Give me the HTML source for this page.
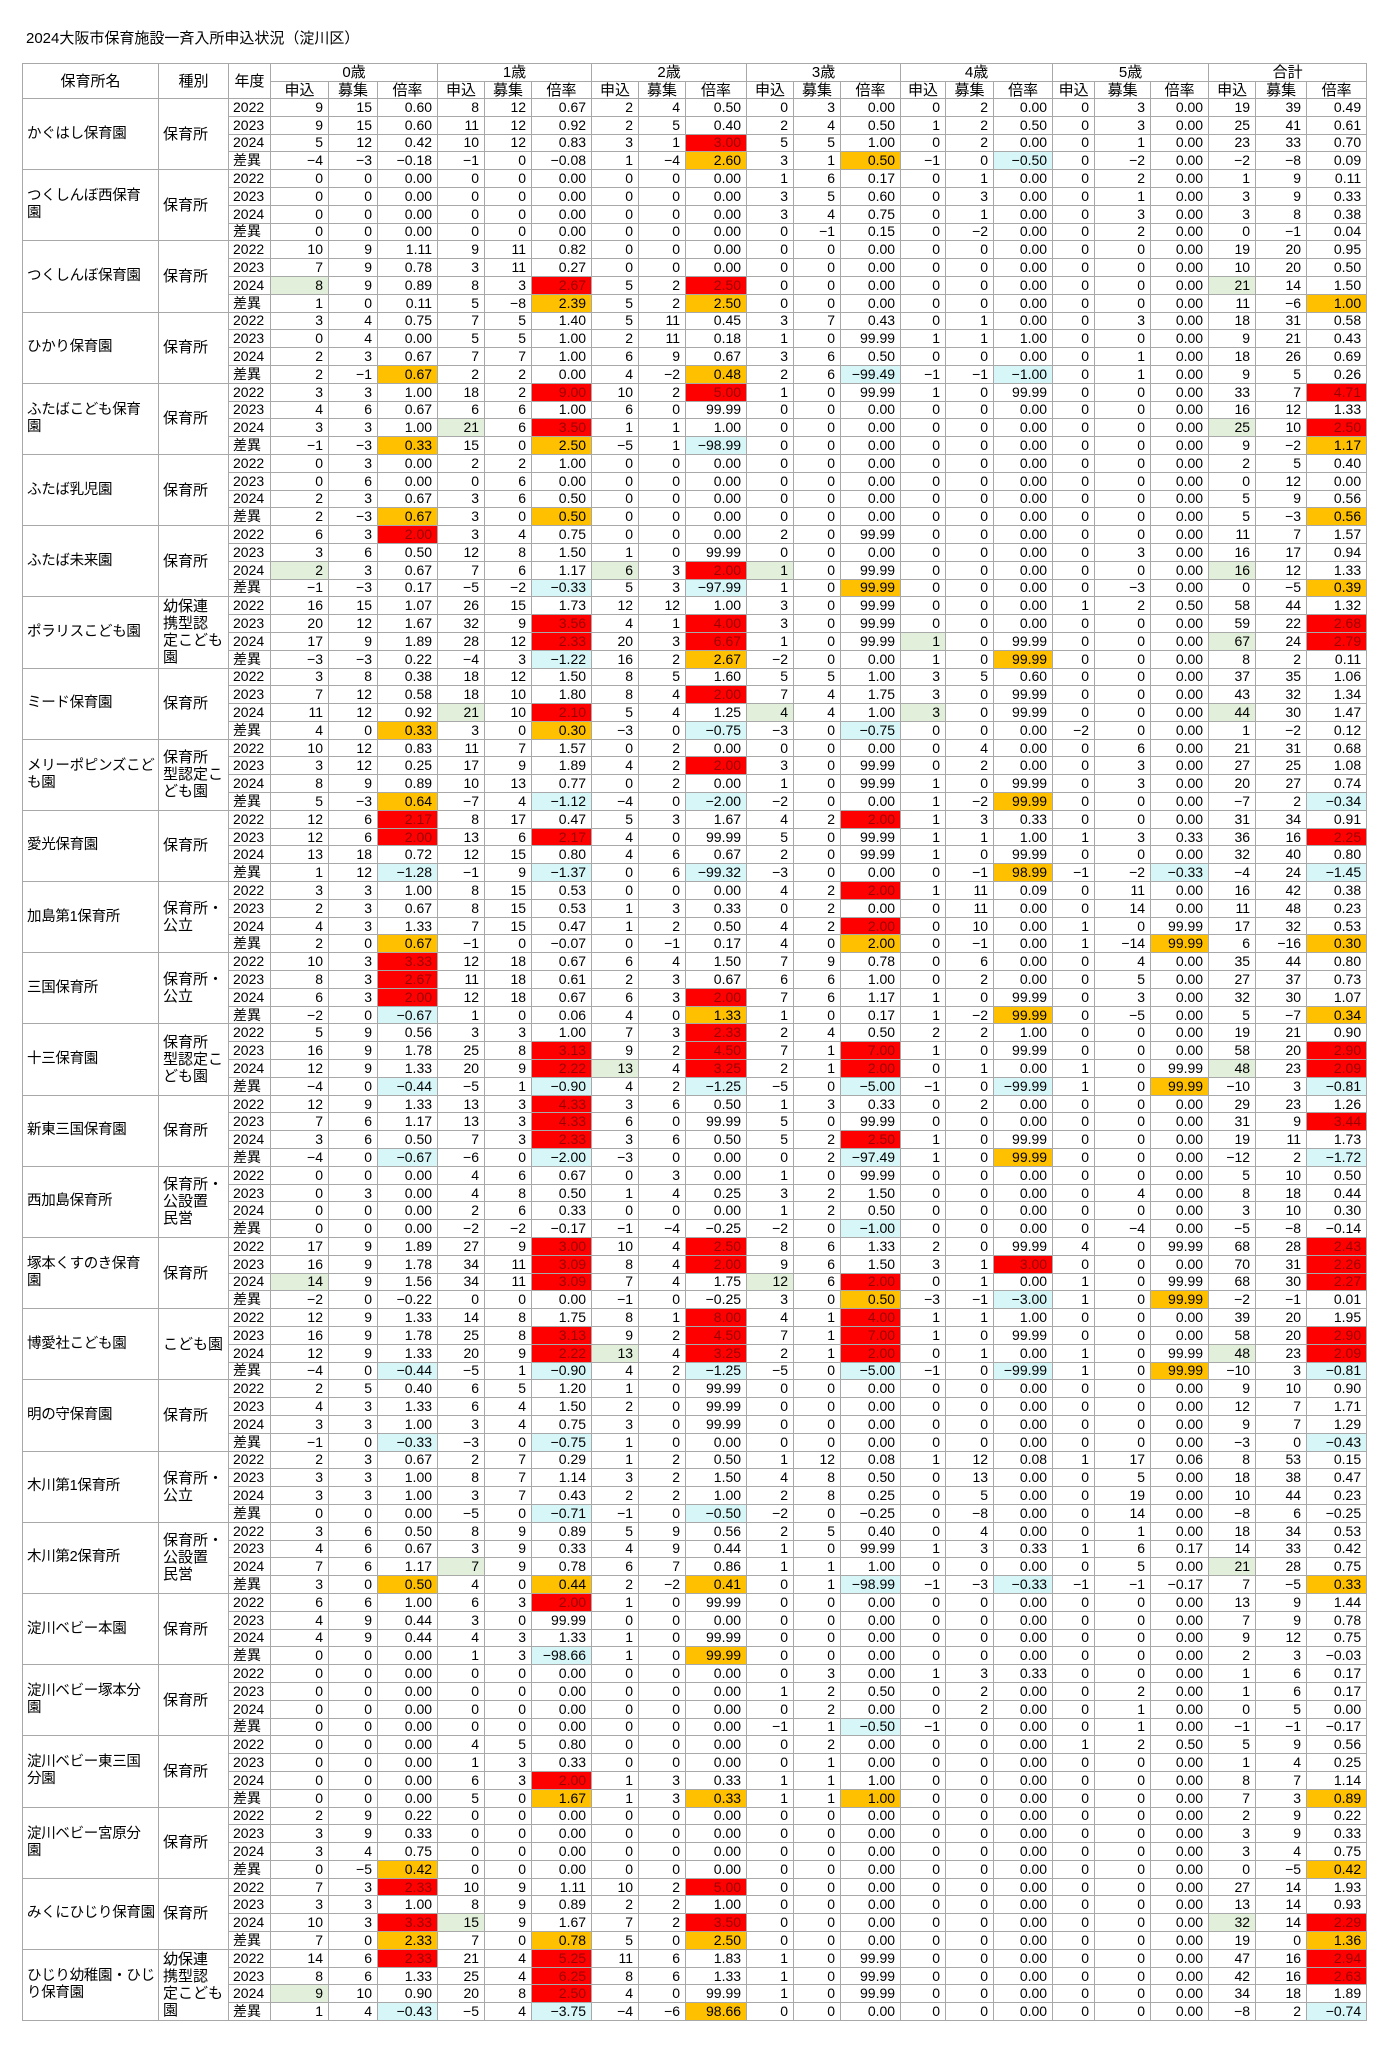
<!DOCTYPE html>
<html><head><meta charset="utf-8">
<style>
html,body{margin:0;padding:0;background:#fff;width:1390px;height:2048px;overflow:hidden}
body{font-family:"Liberation Sans","Noto Sans CJK JP",sans-serif;color:#000;position:relative}
.title{position:absolute;left:26px;top:27px;font-size:15px}
table{position:absolute;left:22px;top:63px;border-collapse:collapse;table-layout:fixed;width:1344px}
td,th{border:1px solid #a8a8a8;padding:0 5px 0 2px;font-size:14px;line-height:15px;text-align:right;white-space:nowrap;overflow:hidden;font-weight:normal}
th{text-align:center;font-size:15px;padding:0}
tr.h1{height:18px} tr.h2{height:17px}
tbody tr{height:17.8px}
td.n,td.t{text-align:left;font-size:15px;line-height:17px;padding:0 0 0 4px;vertical-align:middle;white-space:nowrap;overflow:visible}
td.n{font-size:14.5px;letter-spacing:-0.3px}
td.y{text-align:left;font-size:14px;padding-left:4px}
.r{background:#ff0000;color:#9a0000}
.o{background:#ffc000}
.b{background:#d7f6f8}
.g{background:#e2efda}
</style></head><body>
<div class="title">2024大阪市保育施設一斉入所申込状況（淀川区）</div>
<table>
<colgroup><col style="width:136px"><col style="width:70px"><col style="width:42px">
<col style="width:58px"><col style="width:49px"><col style="width:60px">
<col style="width:47px"><col style="width:47px"><col style="width:60px">
<col style="width:47px"><col style="width:47px"><col style="width:61px">
<col style="width:47px"><col style="width:47px"><col style="width:60px">
<col style="width:45px"><col style="width:48px"><col style="width:59px">
<col style="width:42px"><col style="width:56px"><col style="width:58px">
<col style="width:47px"><col style="width:51px"><col style="width:60px"></colgroup>
<thead>
<tr class="h1"><th rowspan="2">保育所名</th><th rowspan="2">種別</th><th rowspan="2">年度</th><th colspan="3">0歳</th><th colspan="3">1歳</th><th colspan="3">2歳</th><th colspan="3">3歳</th><th colspan="3">4歳</th><th colspan="3">5歳</th><th colspan="3">合計</th></tr>
<tr class="h2"><th>申込</th><th>募集</th><th>倍率</th><th>申込</th><th>募集</th><th>倍率</th><th>申込</th><th>募集</th><th>倍率</th><th>申込</th><th>募集</th><th>倍率</th><th>申込</th><th>募集</th><th>倍率</th><th>申込</th><th>募集</th><th>倍率</th><th>申込</th><th>募集</th><th>倍率</th></tr>
</thead>
<tbody>
<tr><td class="n" rowspan="4">かぐはし保育園<td class="t" rowspan="4">保育所<td class="y">2022<td>9<td>15<td>0.60<td>8<td>12<td>0.67<td>2<td>4<td>0.50<td>0<td>3<td>0.00<td>0<td>2<td>0.00<td>0<td>3<td>0.00<td>19<td>39<td>0.49
<tr><td class="y">2023<td>9<td>15<td>0.60<td>11<td>12<td>0.92<td>2<td>5<td>0.40<td>2<td>4<td>0.50<td>1<td>2<td>0.50<td>0<td>3<td>0.00<td>25<td>41<td>0.61
<tr><td class="y">2024<td>5<td>12<td>0.42<td>10<td>12<td>0.83<td>3<td>1<td class="r">3.00<td>5<td>5<td>1.00<td>0<td>2<td>0.00<td>0<td>1<td>0.00<td>23<td>33<td>0.70
<tr><td class="y">差異<td>−4<td>−3<td>−0.18<td>−1<td>0<td>−0.08<td>1<td>−4<td class="o">2.60<td>3<td>1<td class="o">0.50<td>−1<td>0<td class="b">−0.50<td>0<td>−2<td>0.00<td>−2<td>−8<td>0.09

<tr><td class="n" rowspan="4">つくしんぼ西保育<br>園<td class="t" rowspan="4">保育所<td class="y">2022<td>0<td>0<td>0.00<td>0<td>0<td>0.00<td>0<td>0<td>0.00<td>1<td>6<td>0.17<td>0<td>1<td>0.00<td>0<td>2<td>0.00<td>1<td>9<td>0.11
<tr><td class="y">2023<td>0<td>0<td>0.00<td>0<td>0<td>0.00<td>0<td>0<td>0.00<td>3<td>5<td>0.60<td>0<td>3<td>0.00<td>0<td>1<td>0.00<td>3<td>9<td>0.33
<tr><td class="y">2024<td>0<td>0<td>0.00<td>0<td>0<td>0.00<td>0<td>0<td>0.00<td>3<td>4<td>0.75<td>0<td>1<td>0.00<td>0<td>3<td>0.00<td>3<td>8<td>0.38
<tr><td class="y">差異<td>0<td>0<td>0.00<td>0<td>0<td>0.00<td>0<td>0<td>0.00<td>0<td>−1<td>0.15<td>0<td>−2<td>0.00<td>0<td>2<td>0.00<td>0<td>−1<td>0.04

<tr><td class="n" rowspan="4">つくしんぼ保育園<td class="t" rowspan="4">保育所<td class="y">2022<td>10<td>9<td>1.11<td>9<td>11<td>0.82<td>0<td>0<td>0.00<td>0<td>0<td>0.00<td>0<td>0<td>0.00<td>0<td>0<td>0.00<td>19<td>20<td>0.95
<tr><td class="y">2023<td>7<td>9<td>0.78<td>3<td>11<td>0.27<td>0<td>0<td>0.00<td>0<td>0<td>0.00<td>0<td>0<td>0.00<td>0<td>0<td>0.00<td>10<td>20<td>0.50
<tr><td class="y">2024<td class="g">8<td>9<td>0.89<td>8<td>3<td class="r">2.67<td>5<td>2<td class="r">2.50<td>0<td>0<td>0.00<td>0<td>0<td>0.00<td>0<td>0<td>0.00<td class="g">21<td>14<td>1.50
<tr><td class="y">差異<td>1<td>0<td>0.11<td>5<td>−8<td class="o">2.39<td>5<td>2<td class="o">2.50<td>0<td>0<td>0.00<td>0<td>0<td>0.00<td>0<td>0<td>0.00<td>11<td>−6<td class="o">1.00

<tr><td class="n" rowspan="4">ひかり保育園<td class="t" rowspan="4">保育所<td class="y">2022<td>3<td>4<td>0.75<td>7<td>5<td>1.40<td>5<td>11<td>0.45<td>3<td>7<td>0.43<td>0<td>1<td>0.00<td>0<td>3<td>0.00<td>18<td>31<td>0.58
<tr><td class="y">2023<td>0<td>4<td>0.00<td>5<td>5<td>1.00<td>2<td>11<td>0.18<td>1<td>0<td>99.99<td>1<td>1<td>1.00<td>0<td>0<td>0.00<td>9<td>21<td>0.43
<tr><td class="y">2024<td>2<td>3<td>0.67<td>7<td>7<td>1.00<td>6<td>9<td>0.67<td>3<td>6<td>0.50<td>0<td>0<td>0.00<td>0<td>1<td>0.00<td>18<td>26<td>0.69
<tr><td class="y">差異<td>2<td>−1<td class="o">0.67<td>2<td>2<td>0.00<td>4<td>−2<td class="o">0.48<td>2<td>6<td class="b">−99.49<td>−1<td>−1<td class="b">−1.00<td>0<td>1<td>0.00<td>9<td>5<td>0.26

<tr><td class="n" rowspan="4">ふたばこども保育<br>園<td class="t" rowspan="4">保育所<td class="y">2022<td>3<td>3<td>1.00<td>18<td>2<td class="r">9.00<td>10<td>2<td class="r">5.00<td>1<td>0<td>99.99<td>1<td>0<td>99.99<td>0<td>0<td>0.00<td>33<td>7<td class="r">4.71
<tr><td class="y">2023<td>4<td>6<td>0.67<td>6<td>6<td>1.00<td>6<td>0<td>99.99<td>0<td>0<td>0.00<td>0<td>0<td>0.00<td>0<td>0<td>0.00<td>16<td>12<td>1.33
<tr><td class="y">2024<td>3<td>3<td>1.00<td class="g">21<td>6<td class="r">3.50<td>1<td>1<td>1.00<td>0<td>0<td>0.00<td>0<td>0<td>0.00<td>0<td>0<td>0.00<td class="g">25<td>10<td class="r">2.50
<tr><td class="y">差異<td>−1<td>−3<td class="o">0.33<td>15<td>0<td class="o">2.50<td>−5<td>1<td class="b">−98.99<td>0<td>0<td>0.00<td>0<td>0<td>0.00<td>0<td>0<td>0.00<td>9<td>−2<td class="o">1.17

<tr><td class="n" rowspan="4">ふたば乳児園<td class="t" rowspan="4">保育所<td class="y">2022<td>0<td>3<td>0.00<td>2<td>2<td>1.00<td>0<td>0<td>0.00<td>0<td>0<td>0.00<td>0<td>0<td>0.00<td>0<td>0<td>0.00<td>2<td>5<td>0.40
<tr><td class="y">2023<td>0<td>6<td>0.00<td>0<td>6<td>0.00<td>0<td>0<td>0.00<td>0<td>0<td>0.00<td>0<td>0<td>0.00<td>0<td>0<td>0.00<td>0<td>12<td>0.00
<tr><td class="y">2024<td>2<td>3<td>0.67<td>3<td>6<td>0.50<td>0<td>0<td>0.00<td>0<td>0<td>0.00<td>0<td>0<td>0.00<td>0<td>0<td>0.00<td>5<td>9<td>0.56
<tr><td class="y">差異<td>2<td>−3<td class="o">0.67<td>3<td>0<td class="o">0.50<td>0<td>0<td>0.00<td>0<td>0<td>0.00<td>0<td>0<td>0.00<td>0<td>0<td>0.00<td>5<td>−3<td class="o">0.56

<tr><td class="n" rowspan="4">ふたば未来園<td class="t" rowspan="4">保育所<td class="y">2022<td>6<td>3<td class="r">2.00<td>3<td>4<td>0.75<td>0<td>0<td>0.00<td>2<td>0<td>99.99<td>0<td>0<td>0.00<td>0<td>0<td>0.00<td>11<td>7<td>1.57
<tr><td class="y">2023<td>3<td>6<td>0.50<td>12<td>8<td>1.50<td>1<td>0<td>99.99<td>0<td>0<td>0.00<td>0<td>0<td>0.00<td>0<td>3<td>0.00<td>16<td>17<td>0.94
<tr><td class="y">2024<td class="g">2<td>3<td>0.67<td>7<td>6<td>1.17<td class="g">6<td>3<td class="r">2.00<td class="g">1<td>0<td>99.99<td>0<td>0<td>0.00<td>0<td>0<td>0.00<td class="g">16<td>12<td>1.33
<tr><td class="y">差異<td>−1<td>−3<td>0.17<td>−5<td>−2<td class="b">−0.33<td>5<td>3<td class="b">−97.99<td>1<td>0<td class="o">99.99<td>0<td>0<td>0.00<td>0<td>−3<td>0.00<td>0<td>−5<td class="o">0.39

<tr><td class="n" rowspan="4">ポラリスこども園<td class="t" rowspan="4">幼保連<br>携型認<br>定こども<br>園<td class="y">2022<td>16<td>15<td>1.07<td>26<td>15<td>1.73<td>12<td>12<td>1.00<td>3<td>0<td>99.99<td>0<td>0<td>0.00<td>1<td>2<td>0.50<td>58<td>44<td>1.32
<tr><td class="y">2023<td>20<td>12<td>1.67<td>32<td>9<td class="r">3.56<td>4<td>1<td class="r">4.00<td>3<td>0<td>99.99<td>0<td>0<td>0.00<td>0<td>0<td>0.00<td>59<td>22<td class="r">2.68
<tr><td class="y">2024<td>17<td>9<td>1.89<td>28<td>12<td class="r">2.33<td>20<td>3<td class="r">6.67<td>1<td>0<td>99.99<td class="g">1<td>0<td>99.99<td>0<td>0<td>0.00<td class="g">67<td>24<td class="r">2.79
<tr><td class="y">差異<td>−3<td>−3<td>0.22<td>−4<td>3<td class="b">−1.22<td>16<td>2<td class="o">2.67<td>−2<td>0<td>0.00<td>1<td>0<td class="o">99.99<td>0<td>0<td>0.00<td>8<td>2<td>0.11

<tr><td class="n" rowspan="4">ミード保育園<td class="t" rowspan="4">保育所<td class="y">2022<td>3<td>8<td>0.38<td>18<td>12<td>1.50<td>8<td>5<td>1.60<td>5<td>5<td>1.00<td>3<td>5<td>0.60<td>0<td>0<td>0.00<td>37<td>35<td>1.06
<tr><td class="y">2023<td>7<td>12<td>0.58<td>18<td>10<td>1.80<td>8<td>4<td class="r">2.00<td>7<td>4<td>1.75<td>3<td>0<td>99.99<td>0<td>0<td>0.00<td>43<td>32<td>1.34
<tr><td class="y">2024<td>11<td>12<td>0.92<td class="g">21<td>10<td class="r">2.10<td>5<td>4<td>1.25<td class="g">4<td>4<td>1.00<td class="g">3<td>0<td>99.99<td>0<td>0<td>0.00<td class="g">44<td>30<td>1.47
<tr><td class="y">差異<td>4<td>0<td class="o">0.33<td>3<td>0<td class="o">0.30<td>−3<td>0<td class="b">−0.75<td>−3<td>0<td class="b">−0.75<td>0<td>0<td>0.00<td>−2<td>0<td>0.00<td>1<td>−2<td>0.12

<tr><td class="n" rowspan="4">メリーポピンズこど<br>も園<td class="t" rowspan="4">保育所<br>型認定こ<br>ども園<td class="y">2022<td>10<td>12<td>0.83<td>11<td>7<td>1.57<td>0<td>2<td>0.00<td>0<td>0<td>0.00<td>0<td>4<td>0.00<td>0<td>6<td>0.00<td>21<td>31<td>0.68
<tr><td class="y">2023<td>3<td>12<td>0.25<td>17<td>9<td>1.89<td>4<td>2<td class="r">2.00<td>3<td>0<td>99.99<td>0<td>2<td>0.00<td>0<td>3<td>0.00<td>27<td>25<td>1.08
<tr><td class="y">2024<td>8<td>9<td>0.89<td>10<td>13<td>0.77<td>0<td>2<td>0.00<td>1<td>0<td>99.99<td>1<td>0<td>99.99<td>0<td>3<td>0.00<td>20<td>27<td>0.74
<tr><td class="y">差異<td>5<td>−3<td class="o">0.64<td>−7<td>4<td class="b">−1.12<td>−4<td>0<td class="b">−2.00<td>−2<td>0<td>0.00<td>1<td>−2<td class="o">99.99<td>0<td>0<td>0.00<td>−7<td>2<td class="b">−0.34

<tr><td class="n" rowspan="4">愛光保育園<td class="t" rowspan="4">保育所<td class="y">2022<td>12<td>6<td class="r">2.17<td>8<td>17<td>0.47<td>5<td>3<td>1.67<td>4<td>2<td class="r">2.00<td>1<td>3<td>0.33<td>0<td>0<td>0.00<td>31<td>34<td>0.91
<tr><td class="y">2023<td>12<td>6<td class="r">2.00<td>13<td>6<td class="r">2.17<td>4<td>0<td>99.99<td>5<td>0<td>99.99<td>1<td>1<td>1.00<td>1<td>3<td>0.33<td>36<td>16<td class="r">2.25
<tr><td class="y">2024<td>13<td>18<td>0.72<td>12<td>15<td>0.80<td>4<td>6<td>0.67<td>2<td>0<td>99.99<td>1<td>0<td>99.99<td>0<td>0<td>0.00<td>32<td>40<td>0.80
<tr><td class="y">差異<td>1<td>12<td class="b">−1.28<td>−1<td>9<td class="b">−1.37<td>0<td>6<td class="b">−99.32<td>−3<td>0<td>0.00<td>0<td>−1<td class="o">98.99<td>−1<td>−2<td class="b">−0.33<td>−4<td>24<td class="b">−1.45

<tr><td class="n" rowspan="4">加島第1保育所<td class="t" rowspan="4">保育所・<br>公立<td class="y">2022<td>3<td>3<td>1.00<td>8<td>15<td>0.53<td>0<td>0<td>0.00<td>4<td>2<td class="r">2.00<td>1<td>11<td>0.09<td>0<td>11<td>0.00<td>16<td>42<td>0.38
<tr><td class="y">2023<td>2<td>3<td>0.67<td>8<td>15<td>0.53<td>1<td>3<td>0.33<td>0<td>2<td>0.00<td>0<td>11<td>0.00<td>0<td>14<td>0.00<td>11<td>48<td>0.23
<tr><td class="y">2024<td>4<td>3<td>1.33<td>7<td>15<td>0.47<td>1<td>2<td>0.50<td>4<td>2<td class="r">2.00<td>0<td>10<td>0.00<td>1<td>0<td>99.99<td>17<td>32<td>0.53
<tr><td class="y">差異<td>2<td>0<td class="o">0.67<td>−1<td>0<td>−0.07<td>0<td>−1<td>0.17<td>4<td>0<td class="o">2.00<td>0<td>−1<td>0.00<td>1<td>−14<td class="o">99.99<td>6<td>−16<td class="o">0.30

<tr><td class="n" rowspan="4">三国保育所<td class="t" rowspan="4">保育所・<br>公立<td class="y">2022<td>10<td>3<td class="r">3.33<td>12<td>18<td>0.67<td>6<td>4<td>1.50<td>7<td>9<td>0.78<td>0<td>6<td>0.00<td>0<td>4<td>0.00<td>35<td>44<td>0.80
<tr><td class="y">2023<td>8<td>3<td class="r">2.67<td>11<td>18<td>0.61<td>2<td>3<td>0.67<td>6<td>6<td>1.00<td>0<td>2<td>0.00<td>0<td>5<td>0.00<td>27<td>37<td>0.73
<tr><td class="y">2024<td>6<td>3<td class="r">2.00<td>12<td>18<td>0.67<td>6<td>3<td class="r">2.00<td>7<td>6<td>1.17<td>1<td>0<td>99.99<td>0<td>3<td>0.00<td>32<td>30<td>1.07
<tr><td class="y">差異<td>−2<td>0<td class="b">−0.67<td>1<td>0<td>0.06<td>4<td>0<td class="o">1.33<td>1<td>0<td>0.17<td>1<td>−2<td class="o">99.99<td>0<td>−5<td>0.00<td>5<td>−7<td class="o">0.34

<tr><td class="n" rowspan="4">十三保育園<td class="t" rowspan="4">保育所<br>型認定こ<br>ども園<td class="y">2022<td>5<td>9<td>0.56<td>3<td>3<td>1.00<td>7<td>3<td class="r">2.33<td>2<td>4<td>0.50<td>2<td>2<td>1.00<td>0<td>0<td>0.00<td>19<td>21<td>0.90
<tr><td class="y">2023<td>16<td>9<td>1.78<td>25<td>8<td class="r">3.13<td>9<td>2<td class="r">4.50<td>7<td>1<td class="r">7.00<td>1<td>0<td>99.99<td>0<td>0<td>0.00<td>58<td>20<td class="r">2.90
<tr><td class="y">2024<td>12<td>9<td>1.33<td>20<td>9<td class="r">2.22<td class="g">13<td>4<td class="r">3.25<td>2<td>1<td class="r">2.00<td>0<td>1<td>0.00<td>1<td>0<td>99.99<td class="g">48<td>23<td class="r">2.09
<tr><td class="y">差異<td>−4<td>0<td class="b">−0.44<td>−5<td>1<td class="b">−0.90<td>4<td>2<td class="b">−1.25<td>−5<td>0<td class="b">−5.00<td>−1<td>0<td class="b">−99.99<td>1<td>0<td class="o">99.99<td>−10<td>3<td class="b">−0.81

<tr><td class="n" rowspan="4">新東三国保育園<td class="t" rowspan="4">保育所<td class="y">2022<td>12<td>9<td>1.33<td>13<td>3<td class="r">4.33<td>3<td>6<td>0.50<td>1<td>3<td>0.33<td>0<td>2<td>0.00<td>0<td>0<td>0.00<td>29<td>23<td>1.26
<tr><td class="y">2023<td>7<td>6<td>1.17<td>13<td>3<td class="r">4.33<td>6<td>0<td>99.99<td>5<td>0<td>99.99<td>0<td>0<td>0.00<td>0<td>0<td>0.00<td>31<td>9<td class="r">3.44
<tr><td class="y">2024<td>3<td>6<td>0.50<td>7<td>3<td class="r">2.33<td>3<td>6<td>0.50<td>5<td>2<td class="r">2.50<td>1<td>0<td>99.99<td>0<td>0<td>0.00<td>19<td>11<td>1.73
<tr><td class="y">差異<td>−4<td>0<td class="b">−0.67<td>−6<td>0<td class="b">−2.00<td>−3<td>0<td>0.00<td>0<td>2<td class="b">−97.49<td>1<td>0<td class="o">99.99<td>0<td>0<td>0.00<td>−12<td>2<td class="b">−1.72

<tr><td class="n" rowspan="4">西加島保育所<td class="t" rowspan="4">保育所・<br>公設置<br>民営<td class="y">2022<td>0<td>0<td>0.00<td>4<td>6<td>0.67<td>0<td>3<td>0.00<td>1<td>0<td>99.99<td>0<td>0<td>0.00<td>0<td>0<td>0.00<td>5<td>10<td>0.50
<tr><td class="y">2023<td>0<td>3<td>0.00<td>4<td>8<td>0.50<td>1<td>4<td>0.25<td>3<td>2<td>1.50<td>0<td>0<td>0.00<td>0<td>4<td>0.00<td>8<td>18<td>0.44
<tr><td class="y">2024<td>0<td>0<td>0.00<td>2<td>6<td>0.33<td>0<td>0<td>0.00<td>1<td>2<td>0.50<td>0<td>0<td>0.00<td>0<td>0<td>0.00<td>3<td>10<td>0.30
<tr><td class="y">差異<td>0<td>0<td>0.00<td>−2<td>−2<td>−0.17<td>−1<td>−4<td>−0.25<td>−2<td>0<td class="b">−1.00<td>0<td>0<td>0.00<td>0<td>−4<td>0.00<td>−5<td>−8<td>−0.14

<tr><td class="n" rowspan="4">塚本くすのき保育<br>園<td class="t" rowspan="4">保育所<td class="y">2022<td>17<td>9<td>1.89<td>27<td>9<td class="r">3.00<td>10<td>4<td class="r">2.50<td>8<td>6<td>1.33<td>2<td>0<td>99.99<td>4<td>0<td>99.99<td>68<td>28<td class="r">2.43
<tr><td class="y">2023<td>16<td>9<td>1.78<td>34<td>11<td class="r">3.09<td>8<td>4<td class="r">2.00<td>9<td>6<td>1.50<td>3<td>1<td class="r">3.00<td>0<td>0<td>0.00<td>70<td>31<td class="r">2.26
<tr><td class="y">2024<td class="g">14<td>9<td>1.56<td>34<td>11<td class="r">3.09<td>7<td>4<td>1.75<td class="g">12<td>6<td class="r">2.00<td>0<td>1<td>0.00<td>1<td>0<td>99.99<td>68<td>30<td class="r">2.27
<tr><td class="y">差異<td>−2<td>0<td>−0.22<td>0<td>0<td>0.00<td>−1<td>0<td>−0.25<td>3<td>0<td class="o">0.50<td>−3<td>−1<td class="b">−3.00<td>1<td>0<td class="o">99.99<td>−2<td>−1<td>0.01

<tr><td class="n" rowspan="4">博愛社こども園<td class="t" rowspan="4">こども園<td class="y">2022<td>12<td>9<td>1.33<td>14<td>8<td>1.75<td>8<td>1<td class="r">8.00<td>4<td>1<td class="r">4.00<td>1<td>1<td>1.00<td>0<td>0<td>0.00<td>39<td>20<td>1.95
<tr><td class="y">2023<td>16<td>9<td>1.78<td>25<td>8<td class="r">3.13<td>9<td>2<td class="r">4.50<td>7<td>1<td class="r">7.00<td>1<td>0<td>99.99<td>0<td>0<td>0.00<td>58<td>20<td class="r">2.90
<tr><td class="y">2024<td>12<td>9<td>1.33<td>20<td>9<td class="r">2.22<td class="g">13<td>4<td class="r">3.25<td>2<td>1<td class="r">2.00<td>0<td>1<td>0.00<td>1<td>0<td>99.99<td class="g">48<td>23<td class="r">2.09
<tr><td class="y">差異<td>−4<td>0<td class="b">−0.44<td>−5<td>1<td class="b">−0.90<td>4<td>2<td class="b">−1.25<td>−5<td>0<td class="b">−5.00<td>−1<td>0<td class="b">−99.99<td>1<td>0<td class="o">99.99<td>−10<td>3<td class="b">−0.81

<tr><td class="n" rowspan="4">明の守保育園<td class="t" rowspan="4">保育所<td class="y">2022<td>2<td>5<td>0.40<td>6<td>5<td>1.20<td>1<td>0<td>99.99<td>0<td>0<td>0.00<td>0<td>0<td>0.00<td>0<td>0<td>0.00<td>9<td>10<td>0.90
<tr><td class="y">2023<td>4<td>3<td>1.33<td>6<td>4<td>1.50<td>2<td>0<td>99.99<td>0<td>0<td>0.00<td>0<td>0<td>0.00<td>0<td>0<td>0.00<td>12<td>7<td>1.71
<tr><td class="y">2024<td>3<td>3<td>1.00<td>3<td>4<td>0.75<td>3<td>0<td>99.99<td>0<td>0<td>0.00<td>0<td>0<td>0.00<td>0<td>0<td>0.00<td>9<td>7<td>1.29
<tr><td class="y">差異<td>−1<td>0<td class="b">−0.33<td>−3<td>0<td class="b">−0.75<td>1<td>0<td>0.00<td>0<td>0<td>0.00<td>0<td>0<td>0.00<td>0<td>0<td>0.00<td>−3<td>0<td class="b">−0.43

<tr><td class="n" rowspan="4">木川第1保育所<td class="t" rowspan="4">保育所・<br>公立<td class="y">2022<td>2<td>3<td>0.67<td>2<td>7<td>0.29<td>1<td>2<td>0.50<td>1<td>12<td>0.08<td>1<td>12<td>0.08<td>1<td>17<td>0.06<td>8<td>53<td>0.15
<tr><td class="y">2023<td>3<td>3<td>1.00<td>8<td>7<td>1.14<td>3<td>2<td>1.50<td>4<td>8<td>0.50<td>0<td>13<td>0.00<td>0<td>5<td>0.00<td>18<td>38<td>0.47
<tr><td class="y">2024<td>3<td>3<td>1.00<td>3<td>7<td>0.43<td>2<td>2<td>1.00<td>2<td>8<td>0.25<td>0<td>5<td>0.00<td>0<td>19<td>0.00<td>10<td>44<td>0.23
<tr><td class="y">差異<td>0<td>0<td>0.00<td>−5<td>0<td class="b">−0.71<td>−1<td>0<td class="b">−0.50<td>−2<td>0<td>−0.25<td>0<td>−8<td>0.00<td>0<td>14<td>0.00<td>−8<td>6<td>−0.25

<tr><td class="n" rowspan="4">木川第2保育所<td class="t" rowspan="4">保育所・<br>公設置<br>民営<td class="y">2022<td>3<td>6<td>0.50<td>8<td>9<td>0.89<td>5<td>9<td>0.56<td>2<td>5<td>0.40<td>0<td>4<td>0.00<td>0<td>1<td>0.00<td>18<td>34<td>0.53
<tr><td class="y">2023<td>4<td>6<td>0.67<td>3<td>9<td>0.33<td>4<td>9<td>0.44<td>1<td>0<td>99.99<td>1<td>3<td>0.33<td>1<td>6<td>0.17<td>14<td>33<td>0.42
<tr><td class="y">2024<td>7<td>6<td>1.17<td class="g">7<td>9<td>0.78<td>6<td>7<td>0.86<td>1<td>1<td>1.00<td>0<td>0<td>0.00<td>0<td>5<td>0.00<td class="g">21<td>28<td>0.75
<tr><td class="y">差異<td>3<td>0<td class="o">0.50<td>4<td>0<td class="o">0.44<td>2<td>−2<td class="o">0.41<td>0<td>1<td class="b">−98.99<td>−1<td>−3<td class="b">−0.33<td>−1<td>−1<td>−0.17<td>7<td>−5<td class="o">0.33

<tr><td class="n" rowspan="4">淀川ベビー本園<td class="t" rowspan="4">保育所<td class="y">2022<td>6<td>6<td>1.00<td>6<td>3<td class="r">2.00<td>1<td>0<td>99.99<td>0<td>0<td>0.00<td>0<td>0<td>0.00<td>0<td>0<td>0.00<td>13<td>9<td>1.44
<tr><td class="y">2023<td>4<td>9<td>0.44<td>3<td>0<td>99.99<td>0<td>0<td>0.00<td>0<td>0<td>0.00<td>0<td>0<td>0.00<td>0<td>0<td>0.00<td>7<td>9<td>0.78
<tr><td class="y">2024<td>4<td>9<td>0.44<td>4<td>3<td>1.33<td>1<td>0<td>99.99<td>0<td>0<td>0.00<td>0<td>0<td>0.00<td>0<td>0<td>0.00<td>9<td>12<td>0.75
<tr><td class="y">差異<td>0<td>0<td>0.00<td>1<td>3<td class="b">−98.66<td>1<td>0<td class="o">99.99<td>0<td>0<td>0.00<td>0<td>0<td>0.00<td>0<td>0<td>0.00<td>2<td>3<td>−0.03

<tr><td class="n" rowspan="4">淀川ベビー塚本分<br>園<td class="t" rowspan="4">保育所<td class="y">2022<td>0<td>0<td>0.00<td>0<td>0<td>0.00<td>0<td>0<td>0.00<td>0<td>3<td>0.00<td>1<td>3<td>0.33<td>0<td>0<td>0.00<td>1<td>6<td>0.17
<tr><td class="y">2023<td>0<td>0<td>0.00<td>0<td>0<td>0.00<td>0<td>0<td>0.00<td>1<td>2<td>0.50<td>0<td>2<td>0.00<td>0<td>2<td>0.00<td>1<td>6<td>0.17
<tr><td class="y">2024<td>0<td>0<td>0.00<td>0<td>0<td>0.00<td>0<td>0<td>0.00<td>0<td>2<td>0.00<td>0<td>2<td>0.00<td>0<td>1<td>0.00<td>0<td>5<td>0.00
<tr><td class="y">差異<td>0<td>0<td>0.00<td>0<td>0<td>0.00<td>0<td>0<td>0.00<td>−1<td>1<td class="b">−0.50<td>−1<td>0<td>0.00<td>0<td>1<td>0.00<td>−1<td>−1<td>−0.17

<tr><td class="n" rowspan="4">淀川ベビー東三国<br>分園<td class="t" rowspan="4">保育所<td class="y">2022<td>0<td>0<td>0.00<td>4<td>5<td>0.80<td>0<td>0<td>0.00<td>0<td>2<td>0.00<td>0<td>0<td>0.00<td>1<td>2<td>0.50<td>5<td>9<td>0.56
<tr><td class="y">2023<td>0<td>0<td>0.00<td>1<td>3<td>0.33<td>0<td>0<td>0.00<td>0<td>1<td>0.00<td>0<td>0<td>0.00<td>0<td>0<td>0.00<td>1<td>4<td>0.25
<tr><td class="y">2024<td>0<td>0<td>0.00<td>6<td>3<td class="r">2.00<td>1<td>3<td>0.33<td>1<td>1<td>1.00<td>0<td>0<td>0.00<td>0<td>0<td>0.00<td>8<td>7<td>1.14
<tr><td class="y">差異<td>0<td>0<td>0.00<td>5<td>0<td class="o">1.67<td>1<td>3<td class="o">0.33<td>1<td>1<td class="o">1.00<td>0<td>0<td>0.00<td>0<td>0<td>0.00<td>7<td>3<td class="o">0.89

<tr><td class="n" rowspan="4">淀川ベビー宮原分<br>園<td class="t" rowspan="4">保育所<td class="y">2022<td>2<td>9<td>0.22<td>0<td>0<td>0.00<td>0<td>0<td>0.00<td>0<td>0<td>0.00<td>0<td>0<td>0.00<td>0<td>0<td>0.00<td>2<td>9<td>0.22
<tr><td class="y">2023<td>3<td>9<td>0.33<td>0<td>0<td>0.00<td>0<td>0<td>0.00<td>0<td>0<td>0.00<td>0<td>0<td>0.00<td>0<td>0<td>0.00<td>3<td>9<td>0.33
<tr><td class="y">2024<td>3<td>4<td>0.75<td>0<td>0<td>0.00<td>0<td>0<td>0.00<td>0<td>0<td>0.00<td>0<td>0<td>0.00<td>0<td>0<td>0.00<td>3<td>4<td>0.75
<tr><td class="y">差異<td>0<td>−5<td class="o">0.42<td>0<td>0<td>0.00<td>0<td>0<td>0.00<td>0<td>0<td>0.00<td>0<td>0<td>0.00<td>0<td>0<td>0.00<td>0<td>−5<td class="o">0.42

<tr><td class="n" rowspan="4">みくにひじり保育園<td class="t" rowspan="4">保育所<td class="y">2022<td>7<td>3<td class="r">2.33<td>10<td>9<td>1.11<td>10<td>2<td class="r">5.00<td>0<td>0<td>0.00<td>0<td>0<td>0.00<td>0<td>0<td>0.00<td>27<td>14<td>1.93
<tr><td class="y">2023<td>3<td>3<td>1.00<td>8<td>9<td>0.89<td>2<td>2<td>1.00<td>0<td>0<td>0.00<td>0<td>0<td>0.00<td>0<td>0<td>0.00<td>13<td>14<td>0.93
<tr><td class="y">2024<td>10<td>3<td class="r">3.33<td class="g">15<td>9<td>1.67<td>7<td>2<td class="r">3.50<td>0<td>0<td>0.00<td>0<td>0<td>0.00<td>0<td>0<td>0.00<td class="g">32<td>14<td class="r">2.29
<tr><td class="y">差異<td>7<td>0<td class="o">2.33<td>7<td>0<td class="o">0.78<td>5<td>0<td class="o">2.50<td>0<td>0<td>0.00<td>0<td>0<td>0.00<td>0<td>0<td>0.00<td>19<td>0<td class="o">1.36

<tr><td class="n" rowspan="4">ひじり幼稚園・ひじ<br>り保育園<td class="t" rowspan="4">幼保連<br>携型認<br>定こども<br>園<td class="y">2022<td>14<td>6<td class="r">2.33<td>21<td>4<td class="r">5.25<td>11<td>6<td>1.83<td>1<td>0<td>99.99<td>0<td>0<td>0.00<td>0<td>0<td>0.00<td>47<td>16<td class="r">2.94
<tr><td class="y">2023<td>8<td>6<td>1.33<td>25<td>4<td class="r">6.25<td>8<td>6<td>1.33<td>1<td>0<td>99.99<td>0<td>0<td>0.00<td>0<td>0<td>0.00<td>42<td>16<td class="r">2.63
<tr><td class="y">2024<td class="g">9<td>10<td>0.90<td>20<td>8<td class="r">2.50<td>4<td>0<td>99.99<td>1<td>0<td>99.99<td>0<td>0<td>0.00<td>0<td>0<td>0.00<td>34<td>18<td>1.89
<tr><td class="y">差異<td>1<td>4<td class="b">−0.43<td>−5<td>4<td class="b">−3.75<td>−4<td>−6<td class="o">98.66<td>0<td>0<td>0.00<td>0<td>0<td>0.00<td>0<td>0<td>0.00<td>−8<td>2<td class="b">−0.74
</tbody>
</table>
</body></html>
